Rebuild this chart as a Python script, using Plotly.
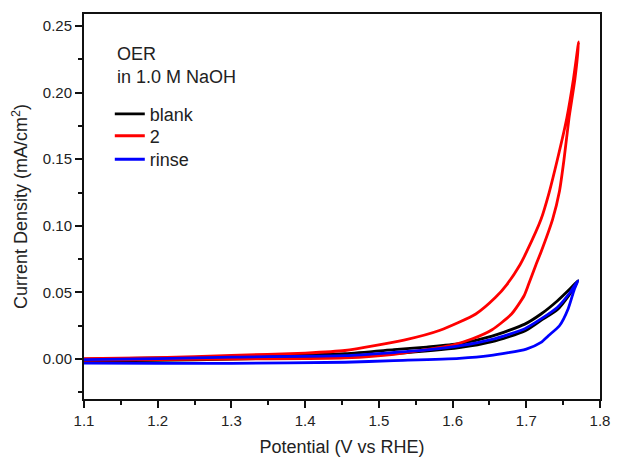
import plotly.graph_objects as go

# ---- data ----
blank_v = [1.10, 1.20, 1.30, 1.454, 1.5205, 1.5648, 1.609, 1.6536, 1.698, 1.720, 1.742, 1.758, 1.770,
           1.758, 1.742, 1.720, 1.698, 1.6536, 1.609, 1.5205, 1.454, 1.30, 1.20, 1.10]
blank_j = [0.0, 0.0008, 0.0018, 0.0040, 0.0070, 0.0090, 0.0115, 0.0172, 0.0262, 0.0338, 0.0436, 0.0520, 0.0588,
           0.0480, 0.0370, 0.0290, 0.0210, 0.0130, 0.0085, 0.0040, 0.0020, 0.0, -0.0010, -0.0015]

two_v = [1.10, 1.20, 1.30, 1.40, 1.454, 1.534, 1.583, 1.6315, 1.658, 1.6736, 1.6913, 1.700,
         1.720, 1.731, 1.7423, 1.755, 1.764, 1.771,
         1.766, 1.758, 1.751, 1.745, 1.7357, 1.720, 1.713, 1.703, 1.697, 1.680, 1.6536, 1.627,
         1.600, 1.5205, 1.454, 1.40, 1.30, 1.20, 1.10]
two_j = [0.0003, 0.0010, 0.0027, 0.0045, 0.0064, 0.0142, 0.0216, 0.0338, 0.0461, 0.0559, 0.0706, 0.0800,
         0.1049, 0.1250, 0.1500, 0.1810, 0.2103, 0.2380,
         0.2103, 0.1810, 0.1490, 0.1260, 0.1049, 0.0804, 0.0706, 0.0559, 0.0475, 0.0338, 0.0220, 0.0152,
         0.0105, 0.0035, 0.0008, 0.0003, 0.0, -0.0005, -0.0010]

rinse_v = [1.10, 1.20, 1.30, 1.454, 1.5205, 1.5648, 1.609, 1.6536, 1.698, 1.720, 1.742, 1.758, 1.770,
           1.765, 1.757, 1.745, 1.730, 1.720, 1.700, 1.650, 1.609, 1.5205, 1.454, 1.30, 1.20, 1.10]
rinse_j = [-0.0005, 0.0003, 0.0015, 0.0025, 0.0049, 0.0068, 0.0098, 0.0147, 0.0228, 0.0301, 0.0387, 0.0490, 0.0588,
           0.0520, 0.0380, 0.0250, 0.0175, 0.0125, 0.0075, 0.0025, 0.0005, -0.0012, -0.0024, -0.0032, -0.0032, -0.0030]

x_ticks = [1.1, 1.2, 1.3, 1.4, 1.5, 1.6, 1.7, 1.8]
y_ticks = [0.00, 0.05, 0.10, 0.15, 0.20, 0.25]

FONT = "Liberation Sans, Arial, sans-serif"
TXT = "#222222"

fig = go.Figure()
series = [(blank_v, blank_j, "blank", "#000000", "legend"),
          (two_v, two_j, "2", "#ff0000", "legend2"),
          (rinse_v, rinse_j, "rinse", "#0000ff", "legend3")]
for v, j, name, col, lg in series:
    fig.add_trace(go.Scatter(x=v, y=j, mode="lines", name=name, legend=lg,
                             line=dict(color=col, width=2.8, shape="spline", smoothing=0.6)))

axis_common = dict(showline=True, linecolor="#111111", linewidth=2, mirror=True,
                   ticks="outside", ticklen=7, tickwidth=1.5, tickcolor="#111111",
                   showgrid=False, zeroline=False,
                   tickfont=dict(family=FONT, size=15, color=TXT))

fig.update_xaxes(range=[1.1, 1.8], tickvals=x_ticks, ticktext=[f"{t:.1f}" for t in x_ticks],
                 minor=dict(dtick=0.05, tick0=1.1, ticks="outside", ticklen=4, tickwidth=1.5, tickcolor="#111111"),
                 title=dict(text="Potential (V vs RHE)", font=dict(family=FONT, size=18, color=TXT), standoff=12),
                 **axis_common)
fig.update_yaxes(range=[-0.03, 0.259], tickvals=y_ticks, ticktext=[f"{t:.2f}" for t in y_ticks],
                 minor=dict(dtick=0.025, tick0=0, ticks="outside", ticklen=4, tickwidth=1.5, tickcolor="#111111"),
                 title=dict(text="Current Density (mA/cm<sup>2</sup>)", font=dict(family=FONT, size=18, color=TXT), standoff=10),
                 **axis_common)

for txt, yy in [("OER", 0.896), ("in 1.0 M NaOH", 0.836)]:
    fig.add_annotation(xref="paper", yref="paper", x=0.061, y=yy, xanchor="left", yanchor="middle",
                       align="left", showarrow=False, text=txt,
                       font=dict(family=FONT, size=18, color=TXT))

def leg(yy):
    return dict(x=0.05, y=yy, xanchor="left", yanchor="middle", bgcolor="rgba(0,0,0,0)",
                font=dict(family=FONT, size=18, color=TXT))

fig.update_layout(width=622, height=466, margin=dict(l=84, r=12, t=14, b=59),
                  paper_bgcolor="white", plot_bgcolor="white",
                  showlegend=True,
                  legend=leg(0.740), legend2=leg(0.683), legend3=leg(0.622))

fig.write_html("out.html")
